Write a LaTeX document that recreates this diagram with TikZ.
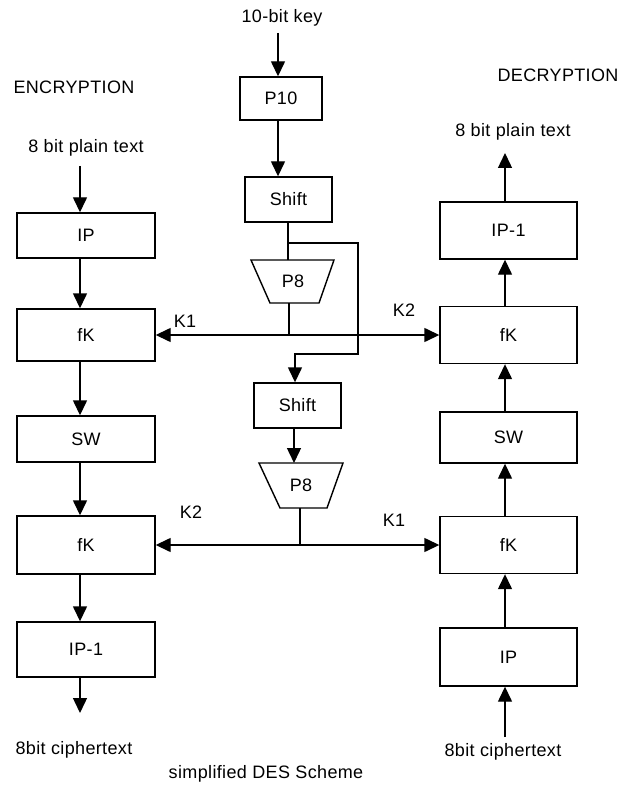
\documentclass[tikz,border=0pt]{standalone}
\usepackage{fontspec}
\setmainfont{Liberation Sans}[LetterSpace=2]
\usetikzlibrary{arrows.meta,calc}
\begin{document}
\begin{tikzpicture}[x=1pt,y=-1pt,
  line width=1.4pt,
  every node/.style={font=\fontsize{18}{21}\selectfont},
  txt/.style={inner sep=0pt},
  blk/.style={draw,inner sep=0pt,minimum width=138,line width=1.4pt},
  arr/.style={-{Triangle[width=14pt,length=15pt]}},
  darr/.style={{Triangle[width=14pt,length=15pt]}-{Triangle[width=14pt,length=15pt]}}]
\useasboundingbox (0,0) rectangle (629,786);
\coordinate (axL) at (80,0);
\coordinate (axR) at (505,0);
% texts
\node[txt] (enc) at (74,87) {ENCRYPTION};
\node[txt] (dec) at (558,75) {DECRYPTION};
\node[txt] (ptL) at (86,148) {8 bit plain text};
\node[txt] (ptR) at (513,132) {8 bit plain text};
\node[txt] (ctL) at (74,750) {8bit ciphertext};
\node[txt] (ctR) at (503,752) {8bit ciphertext};
\node[txt] (title) at (266,774) {simplified DES Scheme};
\node[txt] (key) at (282,18) {10-bit key};
% left column
\node[blk,minimum height=45] (ipL) at (86,235.5) {IP};
\node[blk,minimum height=52] (fk1L) at (86,335) {fK};
\node[blk,minimum height=46] (swL) at (86,439) {SW};
\node[blk,minimum height=58] (fk2L) at (86,545) {fK};
\node[blk,minimum height=55] (ipiL) at (86,649.5) {IP-1};
% right column
\node[blk,minimum width=137,minimum height=57] (ipiR) at (508.5,230.5) {IP-1};
\node[blk,minimum width=137,minimum height=57] (fk1R) at (508.5,335) {fK};
\node[blk,minimum width=137,minimum height=51] (swR) at (508.5,437.5) {SW};
\node[blk,minimum width=137,minimum height=57] (fk2R) at (508.5,545) {fK};
\node[blk,minimum width=137,minimum height=58] (ipR) at (508.5,657) {IP};
% centre
\node[blk,minimum width=82,minimum height=43] (p10) at (281,98.5) {P10};
\node[blk,minimum width=87,minimum height=45] (sh1) at (288.5,199.5) {Shift};
\node[blk,minimum width=87,minimum height=45] (sh2) at (297.5,405.5) {Shift};
% P8 trapezia
\coordinate (p8atl) at (251,260); \coordinate (p8atr) at (334,260);
\coordinate (p8abr) at (319,303); \coordinate (p8abl) at (270,303);
\draw (p8atl) -- (p8atr) -- (p8abr) -- (p8abl) -- cycle;
\node[txt] (p8a) at (293,281.5) {P8};
\coordinate (p8btl) at (259,463); \coordinate (p8btr) at (343,463);
\coordinate (p8bbr) at (327,508); \coordinate (p8bbl) at (280,508);
\draw (p8btl) -- (p8btr) -- (p8bbr) -- (p8bbl) -- cycle;
\node[txt] (p8b) at (301,485.5) {P8};
% key labels
\node[txt] (k1a) at (185,321) {K1};
\node[txt] (k2a) at (404,310) {K2};
\node[txt] (k2b) at (191,512) {K2};
\node[txt] (k1b) at (394,520) {K1};
% left arrows
\draw[arr] (80,166) -- (ipL.north -| axL);
\draw[arr] (ipL.south -| axL) -- (fk1L.north -| axL);
\draw[arr] (fk1L.south -| axL) -- (swL.north -| axL);
\draw[arr] (swL.south -| axL) -- (fk2L.north -| axL);
\draw[arr] (fk2L.south -| axL) -- (ipiL.north -| axL);
\coordinate (ctLend) at (80,713);
\draw[arr] (ipiL.south -| axL) -- (ctLend);
% right arrows
\coordinate (ctRst) at (505,737);
\coordinate (ptRend) at (505,153);
\draw[arr] (ctRst) -- (ipR.south -| axR);
\draw[arr] (ipR.north -| axR) -- (fk2R.south -| axR);
\draw[arr] (fk2R.north -| axR) -- (swR.south -| axR);
\draw[arr] (swR.north -| axR) -- (fk1R.south -| axR);
\draw[arr] (fk1R.north -| axR) -- (ipiR.south -| axR);
\draw[arr] (ipiR.north -| axR) -- (ptRend);
% key schedule
\coordinate (kx) at (278,0);
\draw[arr] (278,33) -- (p10.north -| kx);
\draw[arr] (p10.south -| kx) -- (sh1.north -| kx);
\draw (288,222) -- (288,260);
\draw[arr] (288,222) -- (288,243) -- (358,243) -- (358,354) -- (295,354) -- (sh2.north -| 295,0);
\draw[arr] (sh2.south -| 294,0) -- (294,463);
\draw[darr] (fk1L.east) -- (fk1R.west);
\draw (289,303) -- (289,335);
\draw[darr] (fk2L.east) -- (fk2R.west);
\draw (300,508) -- (300,545);
\end{tikzpicture}
\end{document}
